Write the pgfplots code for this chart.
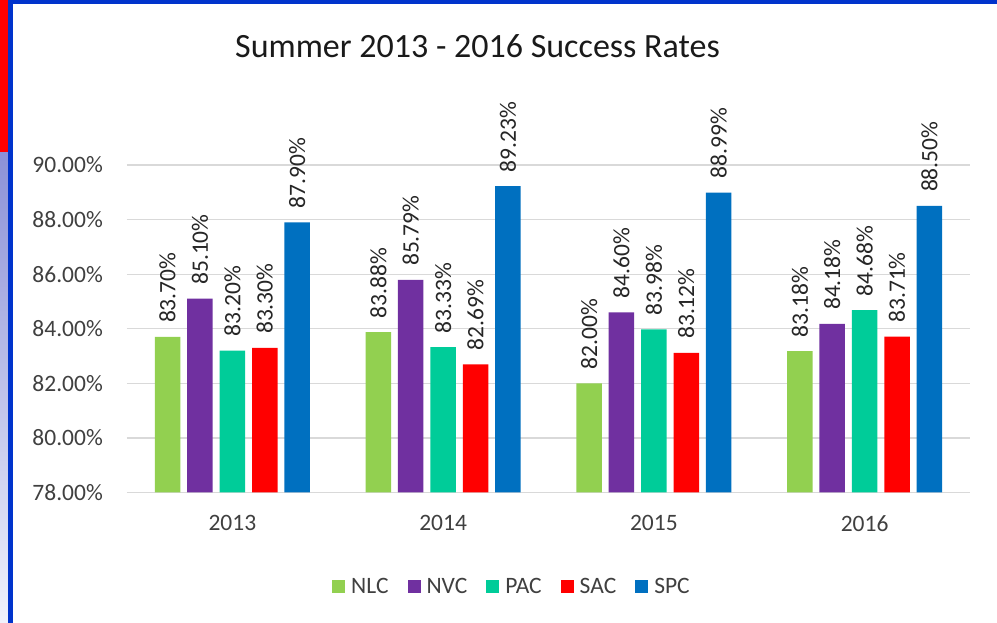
\documentclass[border=0pt]{standalone}
\usepackage{fontspec}
\setmainfont{Carlito}
\usepackage{pgfplots}
\pgfplotsset{compat=1.18}
\definecolor{cNLC}{HTML}{92D050}
\definecolor{cNVC}{HTML}{7030A0}
\definecolor{cPAC}{HTML}{00CC99}
\definecolor{cSAC}{HTML}{FF0000}
\definecolor{cSPC}{HTML}{0070C0}
\definecolor{gridc}{HTML}{D9D9D9}
\definecolor{txt}{HTML}{404040}
\definecolor{ttl}{HTML}{1A1A1A}
\definecolor{bordb}{HTML}{0033CC}
\newcommand{\lbl}{\fontsize{23.5}{28}\selectfont}
\begin{document}
\begin{tikzpicture}
\useasboundingbox (0pt,0pt) rectangle (997pt,623pt);
\fill[white] (0pt,0pt) rectangle (997pt,623pt);
% frame decorations
\fill[red] (0pt,470pt) rectangle (8pt,623pt);
\shade[top color={rgb,255:red,140;green,145;blue,215}, bottom color={rgb,255:red,240;green,242;blue,252}] (0pt,0pt) rectangle (8pt,470pt);
\fill[bordb] (8pt,0pt) rectangle (13pt,623pt);
\fill[bordb] (8pt,619pt) rectangle (997pt,623pt);
\node[anchor=base, font=\fontsize{34}{40}\selectfont, text=ttl] at (477.5pt,565pt) {Summer 2013 - 2016 Success Rates};
\begin{axis}[
  at={(127pt,130.5pt)}, anchor=south west,
  width=843pt, height=327.5pt, scale only axis,
  xmin=-0.5, xmax=3.5, ymin=78, ymax=90,
  ytick={78,80,...,90},
  xtick={0,1,2,3}, xticklabels={2013,2014,2015,2016},
  ymajorgrids, grid style={gridc, line width=1.2pt},
  axis line style={draw=none},
  major tick length=0pt,
  /pgf/number format/assume math mode=true,
  yticklabel={\pgfmathprintnumber[fixed,fixed zerofill,precision=2]{\tick}\%},
  yticklabel style={font=\lbl, text=txt, anchor=east, inner sep=0pt, xshift=-24pt},
  xticklabel style={font=\lbl, text=txt, anchor=north, inner sep=0pt, yshift=-22.5pt},
  ybar, bar width=0.121,
  clip mode=individual,
  nodes near coords={\pgfmathprintnumber[fixed,fixed zerofill,precision=2]{\pgfplotspointmeta}\%},
  every node near coord/.append style={font=\lbl, text=black!85, rotate=90, anchor=west, inner sep=0pt, outer xsep=14pt},
  legend columns=5,
  legend style={draw=none, fill=none, font=\lbl, text=txt, at={(0.4555,-0.2885)}, anchor=center,
    nodes={inner sep=0pt},
    /tikz/every odd column/.append style={column sep=6pt},
    /tikz/every even column/.append style={column sep=19pt}},
  legend image code/.code={\fill[#1, draw=none] (0pt,-6.5pt) rectangle (13pt,6.5pt);},
]
\addplot[fill=cNLC, draw=none, bar shift=-0.3075] coordinates {(0,83.70) (1,83.88) (2,82.00) (3,83.18)};
\addplot[fill=cNVC, draw=none, bar shift=-0.1537] coordinates {(0,85.10) (1,85.79) (2,84.60) (3,84.18)};
\addplot[fill=cPAC, draw=none, bar shift=0] coordinates {(0,83.20) (1,83.33) (2,83.98) (3,84.68)};
\addplot[fill=cSAC, draw=none, bar shift=0.1537] coordinates {(0,83.30) (1,82.69) (2,83.12) (3,83.71)};
\addplot[fill=cSPC, draw=none, bar shift=0.3075] coordinates {(0,87.90) (1,89.23) (2,88.99) (3,88.50)};
\legend{NLC,NVC,PAC,SAC,SPC}
\end{axis}
\end{tikzpicture}
\end{document}
